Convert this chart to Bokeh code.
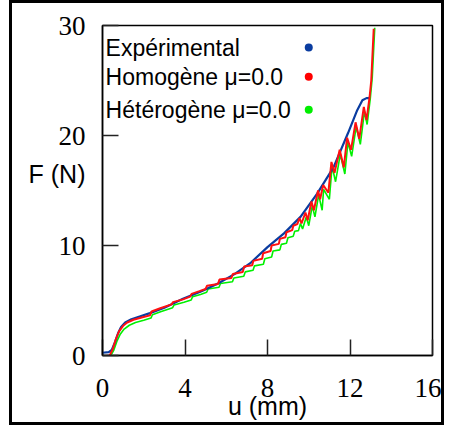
from bokeh.plotting import figure
from bokeh.models import Range1d, FixedTicker, ColumnDataSource
from bokeh.core.properties import value
from bokeh.embed import file_html
from bokeh.resources import INLINE

# Experimental curve
u_exp = [0.0, 0.3, 0.45, 0.6, 0.75, 0.9, 1.1, 1.4, 1.8, 2.3, 3.0, 3.9, 4.8, 5.6, 6.4, 7.2,
         8.0, 8.8, 9.6, 10.4, 11.2, 11.9, 12.35, 12.6, 12.8, 12.95]
F_exp = [0.25, 0.3, 0.5, 1.2, 2.0, 2.6, 3.0, 3.3, 3.55, 3.85, 4.35, 5.15, 5.85, 6.55, 7.4, 8.45,
         9.85, 11.1, 12.6, 14.7, 17.1, 20.2, 22.3, 23.2, 23.4, 23.4]

# Homogene mu=0.0
u_hom = [0.0, 0.35, 0.5, 0.65, 0.8, 1.0, 1.2, 1.5, 1.9, 2.3, 2.38, 2.8, 3.35, 3.42, 3.9,
         4.25, 4.32, 4.7, 5.0, 5.07, 5.6, 5.67, 6.25, 6.32, 6.8, 6.87, 7.26, 7.31, 7.74, 7.79,
         8.15, 8.2, 8.55, 8.6, 8.87, 8.92, 9.2, 9.25, 9.45, 9.55, 9.65, 9.84, 9.95, 10.13, 10.25,
         10.45, 10.55, 10.7, 10.95, 11.1, 11.25, 11.5, 11.7, 11.86, 12.05, 12.27, 12.45, 12.67,
         12.8, 12.95, 13.03, 13.15]
F_hom = [-0.1, 0.0, 0.6, 1.5, 2.2, 2.7, 3.0, 3.25, 3.45, 3.65, 4.0, 4.3, 4.65, 4.85, 5.1,
         5.35, 5.6, 5.85, 6.05, 6.35, 6.5, 6.9, 7.05, 7.4, 7.6, 8.1, 8.2, 8.6, 8.8, 9.3,
         9.5, 10.0, 10.15, 10.6, 10.75, 11.2, 11.4, 11.8, 11.95, 12.5, 12.0, 13.0, 12.3, 14.0, 13.2,
         15.0, 14.2, 15.5, 14.8, 17.6, 16.6, 18.7, 17.1, 19.8, 18.7, 21.2, 19.7, 22.6,
         21.4, 23.5, 25.0, 29.7]

# Heterogene mu=0.0
u_het = [0.0, 0.4, 0.55, 0.7, 0.85, 1.05, 1.3, 1.6, 2.0, 2.35, 2.42, 2.85, 3.4, 3.47, 3.95,
         4.3, 4.37, 4.75, 5.05, 5.12, 5.65, 5.72, 6.3, 6.37, 6.85, 6.92, 7.3, 7.37, 7.8, 7.87,
         8.2, 8.27, 8.6, 8.67, 8.92, 8.99, 9.25, 9.32, 9.5, 9.6, 9.7, 9.88, 10.0, 10.17, 10.3,
         10.48, 10.65, 10.72, 11.0, 11.13, 11.3, 11.53, 11.75, 11.9, 12.08, 12.3, 12.5, 12.7,
         12.83, 12.98, 13.08, 13.2]
F_het = [-0.1, 0.0, 0.5, 1.3, 1.9, 2.4, 2.75, 3.0, 3.2, 3.4, 3.7, 4.0, 4.35, 4.6, 4.85,
         5.05, 5.35, 5.55, 5.75, 6.05, 6.2, 6.55, 6.7, 7.05, 7.2, 7.6, 7.75, 8.15, 8.3, 8.8,
         8.95, 9.5, 9.6, 10.1, 10.2, 10.7, 10.85, 11.3, 11.35, 12.0, 11.5, 12.6, 11.8, 13.6, 12.6,
         14.6, 13.2, 15.1, 14.2, 17.2, 15.8, 18.3, 16.5, 19.4, 18.1, 20.8, 19.2, 22.2,
         21.0, 23.3, 25.3, 29.8]

x_ticks = [0, 4, 8, 12, 16]
y_ticks = [0, 10, 20, 30]
legend_labels = ["Expérimental", "Homogène μ=0.0", "Hétérogène μ=0.0"]
legend_colors = ["#0a3ca0", "#ff0000", "#00ee00"]
line_colors = ["#0a3ca0", "#ff1010", "#00f000"]
x_label = "u (mm)"
y_label = "F (N)"

p = figure(width=435, height=425, x_range=Range1d(0, 16), y_range=Range1d(0, 30),
           output_backend="svg", toolbar_location=None,
           min_border_left=90, min_border_right=15, min_border_top=22, min_border_bottom=73)
p.styles = {"border": "3px solid black", "margin-left": "9px"}
p.grid.visible = False
p.outline_line_color = "black"
p.outline_line_width = 1.5

for ax, ticks in ((p.xaxis, x_ticks), (p.yaxis, y_ticks)):
    ax.ticker = FixedTicker(ticks=ticks)
    ax.major_tick_in = 16
    ax.major_tick_out = 0
    ax.minor_tick_line_color = None
    ax.major_tick_line_color = "#222222"
    ax.major_tick_line_width = 1.5
    ax.axis_line_color = "black"
    ax.axis_line_width = 1.5
    ax.major_label_text_font = "Liberation Serif"
    ax.major_label_text_font_size = "27px"
    ax.major_label_text_color = "black"
    ax.axis_label_text_font = "Liberation Sans"
    ax.axis_label_text_font_size = "25px"
    ax.axis_label_text_font_style = "normal"
    ax.axis_label_text_color = "black"
p.xaxis.major_label_standoff = 23
p.yaxis.major_label_standoff = 17
p.xaxis.axis_label = x_label
p.xaxis.axis_label_standoff = -8
# second (empty) line lifts the label above the frame centre, as in the reference
p.yaxis.axis_label = y_label + "\n "
p.yaxis.axis_label_orientation = "horizontal"
p.yaxis.axis_label_standoff = -30

p.line(u_het, F_het, line_color=line_colors[2], line_width=1.6)
p.line(u_exp, F_exp, line_color=line_colors[0], line_width=2.2)
p.line(u_hom, F_hom, line_color=line_colors[1], line_width=2.0)

# legend (labels left, markers right)
leg_y = [28.0, 25.35, 22.35]
leg_src = ColumnDataSource(dict(x=[0.15] * 3, y=leg_y, text=legend_labels, c=legend_colors))
p.text(x="x", y="y", text="text", source=leg_src, text_font=value("Liberation Sans"),
       text_font_size="23px", text_baseline="middle", text_align="left", text_color="black")
p.scatter(x=[10.0] * 3, y=leg_y, size=8, color=legend_colors, line_color=None)

open("out.html", "w").write(file_html(p, INLINE))
